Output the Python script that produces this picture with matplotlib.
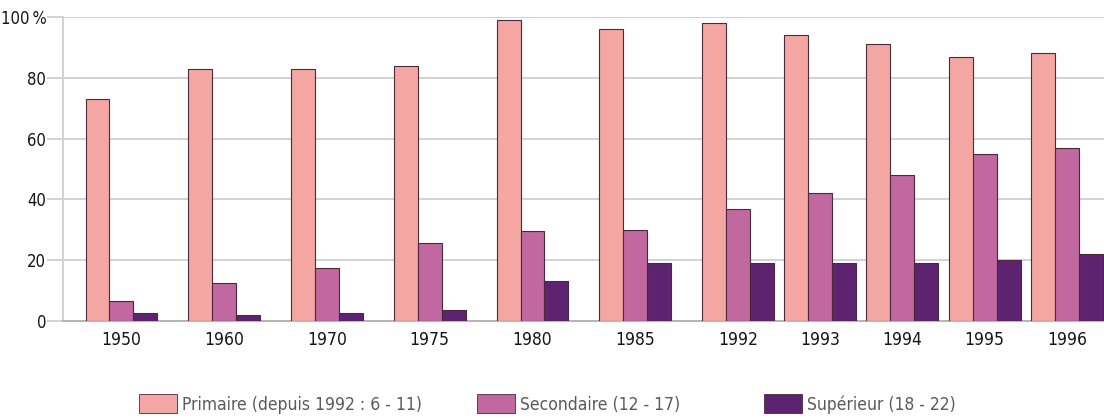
import matplotlib
matplotlib.use("Agg")
import matplotlib.pyplot as plt
from matplotlib import font_manager as fm
from matplotlib.patches import Patch
import numpy as np

# Taux de scolarisation par niveau (%)
years = ["1950", "1960", "1970", "1975", "1980", "1985",
         "1992", "1993", "1994", "1995", "1996"]
primaire = [73, 83, 83, 84, 99, 96, 98, 94, 91, 87, 88]
secondaire = [6.5, 12.5, 17.5, 25.5, 29.5, 30, 37, 42, 48, 55, 57]
superieur = [2.5, 2, 2.5, 3.5, 13, 19, 19, 19, 19, 20, 22]
series_labels = ["Primaire (depuis 1992 : 6 - 11)",
                 "Secondaire (12 - 17)",
                 "Supérieur (18 - 22)"]
y_ticks = [0, 20, 40, 60, 80, 100]
y_labels = ["0", "20", "40", "60", "80", "100\u2009%"]

colors = ["#f4a7a2", "#c0689f", "#5d2270"]
edge = "#4a2a3a"
grid_c = "#d2d2d2"

# prefer a narrow sans face for the labels if one is installed
narrow = None
for f in fm.fontManager.ttflist:
    if f.stretch in ("condensed", "semi-condensed", "extra-condensed") or \
            "Narrow" in f.name or "Condensed" in f.name:
        narrow = (f.name, f.stretch)
        break
if narrow:
    plt.rcParams["font.family"] = [narrow[0], "DejaVu Sans"]
    plt.rcParams["font.stretch"] = narrow[1]
    fs = 12.5
    fs_y = 12
    fs_leg = 12.5
else:
    plt.rcParams["font.family"] = ["Roboto", "DejaVu Sans"]
    fs = 11
    fs_y = 11
    fs_leg = 11

W, H = 1104, 418
fig = plt.figure(figsize=(W / 100, H / 100), dpi=100)
fig.patch.set_facecolor("white")

# axes placed in pixel terms: spine at x=63, zero line at y=321, 100 % at y=17
ax = fig.add_axes([63 / W, (H - 321) / H, (W - 63) / W, 304 / H])

# the yearly groups from 1992 on are packed closer together
steps = [1.0] * 6 + [0.8] * 4
xpos = np.concatenate([[0.0], np.cumsum(steps)])
bw = 0.233

for k, (vals, col) in enumerate(zip([primaire, secondaire, superieur], colors)):
    ax.bar(xpos + (k - 1) * bw, vals, width=bw, color=col,
           edgecolor=edge, linewidth=0.8, zorder=3)

ax.set_xlim(-0.569, 9.562)
ax.set_ylim(0, 100)

ax.set_yticks(y_ticks)
ax.set_yticklabels(y_labels)
ax.yaxis.grid(True, color=grid_c, linewidth=1.4, zorder=0)
ax.tick_params(axis="y", direction="out", length=11.5, width=1.4,
               color=grid_c, pad=0.5, labelsize=fs_y, labelcolor="#151515")

ax.set_xticks(xpos)
ax.set_xticklabels(years)
ax.tick_params(axis="x", length=0, pad=7, labelsize=fs, labelcolor="#151515")

for s in ["top", "right"]:
    ax.spines[s].set_visible(False)
ax.spines["left"].set_color(grid_c)
ax.spines["left"].set_linewidth(1.4)
ax.spines["bottom"].set_color("#b5b5b5")
ax.spines["bottom"].set_linewidth(1.4)
ax.set_axisbelow(True)

# legend entries laid out along the bottom
legend_x = [139, 477, 764]
for lab, col, lx in zip(series_labels, colors, legend_x):
    h = Patch(facecolor=col, edgecolor=edge, linewidth=0.6)
    fig.legend([h], [lab], loc="center left",
               bbox_to_anchor=(lx / W, 14 / H), frameon=False,
               borderpad=0, borderaxespad=0, handlelength=38 / (fs_leg * 100 / 72),
               handleheight=22 / (fs_leg * 100 / 72), handletextpad=0.3,
               prop={"size": fs_leg}, labelcolor="#5a5a5a")

fig.savefig("out.png", dpi=100, facecolor="white")
